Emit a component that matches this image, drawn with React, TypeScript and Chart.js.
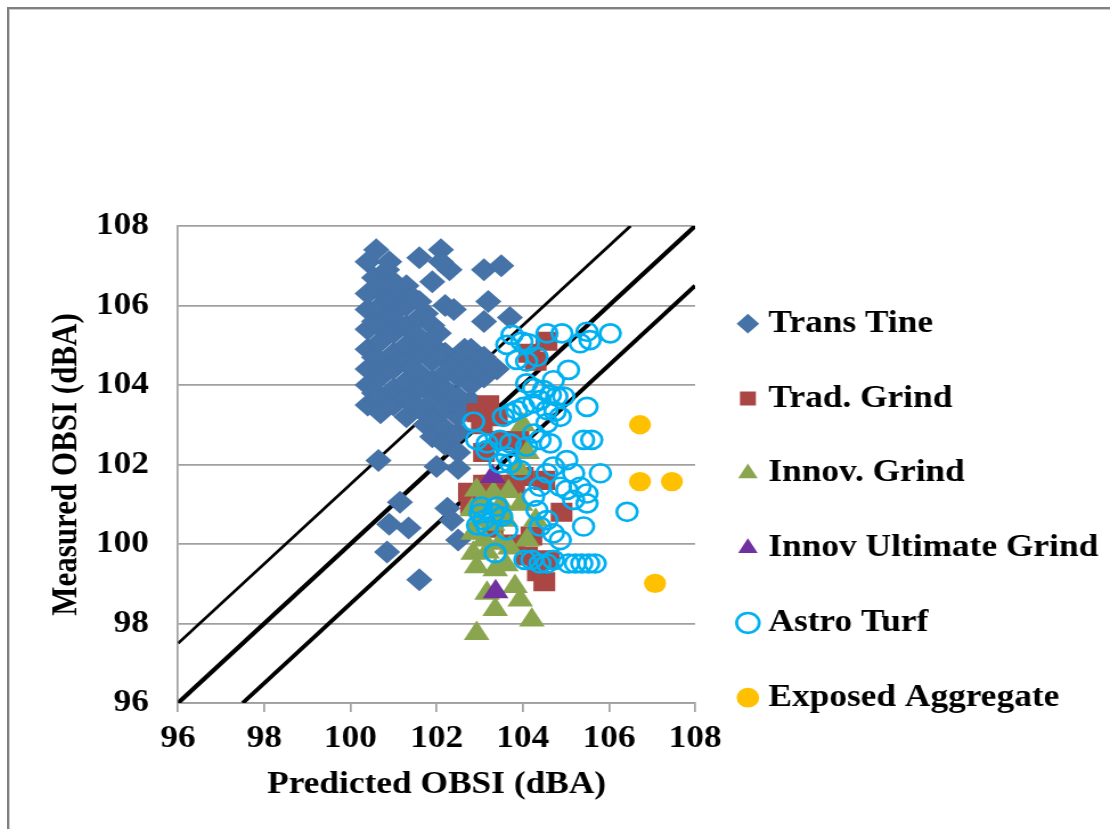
import React, { useEffect, useRef } from 'react';
import { Chart, registerables } from 'chart.js';

Chart.register(...registerables);

// ---- axis settings ----
const axisMin = 96;
const axisMax = 108;
const axisStep = 2;
const xTitle = 'Predicted OBSI (dBA)';
const yTitle = 'Measured OBSI (dBA)';

// ---- series names ----
const seriesNames = [
  'Trans Tine',
  'Trad. Grind',
  'Innov. Grind',
  'Innov Ultimate Grind',
  'Astro Turf',
  'Exposed Aggregate',
];

// ---- series values [predicted, measured] ----
const transTine: [number, number][] = [
  [100.4, 103.5], [100.4, 104.0], [100.4, 104.4], [100.4, 104.9], [100.4, 105.4], [100.4, 105.9], [100.4, 106.3], [100.4, 107.1],
  [100.55, 103.8], [100.55, 104.7], [100.55, 105.6], [100.55, 106.7],
  [100.7, 103.3], [100.7, 103.7], [100.7, 104.2], [100.7, 104.6], [100.7, 105.1], [100.7, 105.6], [100.7, 106.0], [100.7, 106.5], [100.6, 107.4],
  [100.85, 103.5], [100.85, 104.4], [100.85, 105.3], [100.85, 106.2], [100.85, 106.9],
  [101.0, 103.5], [101.0, 103.9], [101.0, 104.4], [101.0, 104.8], [101.0, 105.3], [101.0, 105.8], [101.0, 106.2], [101.0, 106.6], [100.9, 107.1],
  [101.15, 103.8], [101.15, 104.6], [101.15, 105.5], [101.15, 106.3],
  [101.3, 103.2], [101.3, 103.7], [101.3, 104.1], [101.3, 104.6], [101.3, 105.0], [101.3, 105.5], [101.3, 106.0], [101.3, 106.5],
  [101.45, 103.5], [101.45, 104.4], [101.45, 105.3], [101.45, 106.2],
  [101.6, 103.4], [101.6, 103.9], [101.6, 104.3], [101.6, 104.8], [101.6, 105.2], [101.6, 105.7], [101.6, 106.1], [101.6, 107.2],
  [101.75, 103.0], [101.75, 103.9], [101.75, 104.8], [101.75, 105.8],
  [101.9, 102.7], [101.9, 103.2], [101.9, 103.6], [101.9, 104.1], [101.9, 104.6], [101.9, 105.0], [101.9, 105.5], [101.9, 106.6],
  [102.05, 103.0], [102.05, 103.9], [102.05, 104.8], [102.05, 105.3],
  [102.2, 102.5], [102.2, 102.9], [102.2, 103.4], [102.2, 103.9], [102.2, 104.3], [102.2, 104.8], [102.2, 106.0], [102.3, 106.9], [102.1, 107.4], [102.1, 107.1],
  [102.35, 102.7], [102.35, 103.6], [102.35, 104.5],
  [102.5, 102.3], [102.5, 102.8], [102.5, 103.2], [102.5, 103.7], [102.5, 104.2], [102.5, 104.6], [102.4, 105.9],
  [102.65, 103.4], [102.65, 104.3], [102.65, 104.9],
  [102.8, 103.6], [102.8, 104.0], [102.8, 104.5], [102.8, 104.9], [102.95, 104.3], [103.1, 104.2], [103.1, 104.7], [103.25, 104.5], [103.4, 104.4],
  [103.1, 106.9], [103.5, 107.0], [103.2, 106.1], [103.1, 105.6], [103.7, 105.7],
  [100.65, 102.1], [102.0, 101.95], [102.5, 101.9], [101.15, 101.05], [100.9, 100.5], [101.35, 100.4],
  [102.25, 100.9], [102.35, 100.6], [102.5, 100.1], [100.85, 99.8], [101.6, 99.1],
];

const tradGrind: [number, number][] = [
  [104.55, 105.1], [104.3, 104.6], [104.15, 104.8], [102.95, 103.3], [103.2, 103.5], [103.05, 103.0],
  [103.1, 102.3], [103.5, 102.6], [103.9, 102.6], [103.4, 103.2], [102.75, 101.3], [102.8, 101.0],
  [103.1, 101.5], [103.6, 101.4], [104.0, 101.7], [104.5, 101.6], [104.9, 100.8], [104.2, 100.2],
  [104.35, 99.3], [104.5, 99.05], [104.6, 99.6], [104.1, 99.7], [103.8, 100.0], [103.3, 100.4],
  [103.0, 101.2], [103.3, 101.5], [103.8, 101.5],
];

const innovGrind: [number, number][] = [
  [102.93, 101.36], [103.32, 101.28], [103.67, 101.32], [102.82, 100.86], [103.2, 100.9], [102.85, 100.27],
  [103.3, 100.5], [103.6, 100.6], [102.85, 99.77], [103.17, 99.8], [103.47, 100.02], [102.93, 99.43],
  [103.36, 99.35], [103.61, 99.48], [103.17, 98.76], [103.82, 98.93], [103.94, 98.59], [103.36, 98.35],
  [104.21, 98.09], [102.93, 97.75], [104.0, 103.0], [104.1, 102.3], [103.9, 101.9], [104.3, 100.6],
  [104.1, 100.1], [103.95, 101.0], [103.0, 100.6], [103.5, 100.8], [103.1, 100.1], [103.7, 99.9],
  [103.0, 101.0], [103.5, 101.0],
];

const innovUltimate: [number, number][] = [
  [103.3, 101.7], [103.37, 98.8],
];

const astroTurf: [number, number][] = [
  [103.75, 105.26], [104.13, 105.05], [104.56, 105.3], [104.91, 105.3], [105.49, 105.34], [105.33, 105.05],
  [105.56, 105.13], [106.03, 105.3], [103.63, 105.01], [103.98, 105.09], [104.33, 104.71], [104.09, 104.59],
  [103.86, 104.63], [105.06, 104.38], [104.71, 104.12], [104.09, 104.04], [104.25, 103.92], [104.48, 103.87],
  [104.64, 103.75], [104.79, 103.71], [104.95, 103.71], [104.4, 103.62], [104.25, 103.54], [104.02, 103.45],
  [103.86, 103.37], [103.71, 103.29], [103.55, 103.2], [102.86, 103.08], [105.49, 103.45], [104.56, 103.37],
  [104.75, 103.33], [104.87, 103.2], [104.56, 103.04], [104.25, 102.78], [104.4, 102.62], [104.64, 102.53],
  [103.17, 102.53], [103.47, 102.62], [103.71, 102.53], [104.09, 102.45], [105.41, 102.62], [105.6, 102.62],
  [105.02, 102.11], [105.18, 101.78], [105.8, 101.78], [105.33, 101.44], [105.49, 101.27], [104.71, 101.95],
  [104.56, 101.78], [104.4, 101.44], [104.25, 101.19], [104.87, 101.44], [105.02, 101.36], [105.18, 101.11],
  [105.49, 101.02], [104.33, 100.85], [104.56, 100.6], [104.4, 100.44], [104.71, 100.27], [104.87, 100.1],
  [105.41, 100.44], [106.42, 100.81], [103.4, 100.94], [103.09, 100.6], [103.51, 100.69], [103.63, 100.35],
  [103.36, 99.77], [104.05, 99.6], [104.21, 99.6], [104.4, 99.51], [104.56, 99.51], [104.71, 99.6],
  [105.06, 99.51], [105.22, 99.51], [105.37, 99.51], [105.53, 99.51], [105.68, 99.51], [103.71, 102.03],
  [103.47, 102.03], [103.94, 101.86], [103.63, 102.2], [103.17, 102.36], [103.01, 100.77], [103.32, 100.77],
  [103.17, 100.44], [102.95, 100.47], [103.04, 100.94], [102.93, 102.62],
];

const exposedAggregate: [number, number][] = [
  [106.72, 103.0], [106.72, 101.57], [107.46, 101.57], [107.07, 99.01],
];

// ---- reference lines (measured = predicted + offset) ----
const lineUpper: [number, number][] = [[96, 97.5], [106.5, 108]];
const lineEqual: [number, number][] = [[96, 96], [108, 108]];
const lineLower: [number, number][] = [[97.5, 96], [108, 106.5]];

const FONT_FAMILY = '"Liberation Serif", "Times New Roman", serif';
const GRID = '#a0a0a0';

const toPts = (a: [number, number][]) => a.map(([x, y]) => ({ x, y }));

function scatterSet(label: string, data: [number, number][], style: string, radius: number, fill: string, border: string, bw: number, order: number) {
  return {
    type: 'scatter' as const,
    label,
    data: toPts(data),
    pointStyle: style,
    pointRadius: radius,
    pointHoverRadius: radius,
    backgroundColor: fill,
    borderColor: border,
    borderWidth: bw,
    pointBorderWidth: bw,
    showLine: false,
    order,
  };
}

function lineSet(data: [number, number][], width: number) {
  return {
    type: 'line' as const,
    label: 'ref',
    data: toPts(data),
    borderColor: '#000000',
    borderWidth: width,
    pointRadius: 0,
    fill: false,
    clip: 0,
    order: 10,
  };
}

export default function App() {
  const ref = useRef<HTMLCanvasElement>(null);

  useEffect(() => {
    if (!ref.current) return;
    const font = { family: FONT_FAMILY, size: 31, weight: 'bold' as const };
    const chart = new Chart(ref.current, {
      type: 'scatter',
      data: {
        datasets: [
          scatterSet(seriesNames[0], transTine, 'rectRot', 11.5, '#4572a7', '#4572a7', 0, 6),
          scatterSet(seriesNames[1], tradGrind, 'rect', 13.5, '#aa4643', '#aa4643', 0, 5),
          scatterSet(seriesNames[2], innovGrind, 'triangle', 13, '#89a54e', '#89a54e', 0, 4),
          scatterSet(seriesNames[3], innovUltimate, 'triangle', 13, '#7030a0', '#7030a0', 0, 3),
          scatterSet(seriesNames[4], astroTurf, 'circle', 9, 'rgba(0,0,0,0)', '#00b0f0', 2.7, 2),
          scatterSet(seriesNames[5], exposedAggregate, 'circle', 9.7, '#ffc000', '#ffc000', 0, 1),
          lineSet(lineUpper, 2.8),
          lineSet(lineEqual, 4.2),
          lineSet(lineLower, 3.9),
        ] as any,
      },
      options: {
        animation: false,
        responsive: false,
        events: [],
        layout: { padding: { top: 217, right: 2, bottom: 0, left: 0 } },
        plugins: {
          tooltip: { enabled: false },
          legend: {
            display: true,
            position: 'right',
            align: 'start',
            maxWidth: 362,
            title: { display: true, text: '', padding: { top: 24, bottom: 0 }, font: { size: 12 } },
            labels: {
              usePointStyle: true,
              boxWidth: 5,
              boxHeight: 14,
              padding: 43.8,
              color: '#000000',
              font,
              filter: (item: any) => item.datasetIndex < 6,
              sort: (a: any, b: any) => a.datasetIndex - b.datasetIndex,
            },
          },
        },
        scales: {
          x: {
            type: 'linear',
            min: axisMin,
            max: axisMax,
            ticks: { stepSize: axisStep, color: '#000000', font, padding: 8, autoSkip: false, maxRotation: 0 },
            grid: { drawOnChartArea: false, drawTicks: true, tickLength: 9, color: GRID, lineWidth: 1.7 },
            border: { display: true, color: GRID, width: 1.7 },
            title: { display: true, text: xTitle, color: '#000000', font, padding: { top: 0, bottom: 25.7 } },
            afterFit: (s: any) => { s.height = 126; },
          },
          y: {
            type: 'linear',
            min: axisMin,
            max: axisMax,
            ticks: { stepSize: axisStep, color: '#000000', font, padding: 25.5 },
            grid: { drawTicks: false, color: GRID, lineWidth: 1.7 },
            border: { display: true, color: GRID, width: 1.7 },
            title: { display: true, text: yTitle, color: '#000000', font, padding: { top: 32.3, bottom: 0 } },
            afterFit: (s: any) => { s.width = 148.3; },
          },
        },
      } as any,
    });
    return () => chart.destroy();
  }, []);

  return (
    <div
      style={{
        position: 'fixed',
        left: 7,
        top: 7,
        width: 1103,
        height: 822,
        boxSizing: 'border-box',
        borderLeft: '2px solid #808080',
        borderTop: '2px solid #808080',
        boxShadow: 'inset 1px 1px 0 #cccccc',
        background: '#ffffff',
        overflow: 'hidden',
      }}
    >
      <canvas ref={ref} width={966} height={820} style={{ display: 'block', width: '1101px', height: '820px' }} />
    </div>
  );
}
